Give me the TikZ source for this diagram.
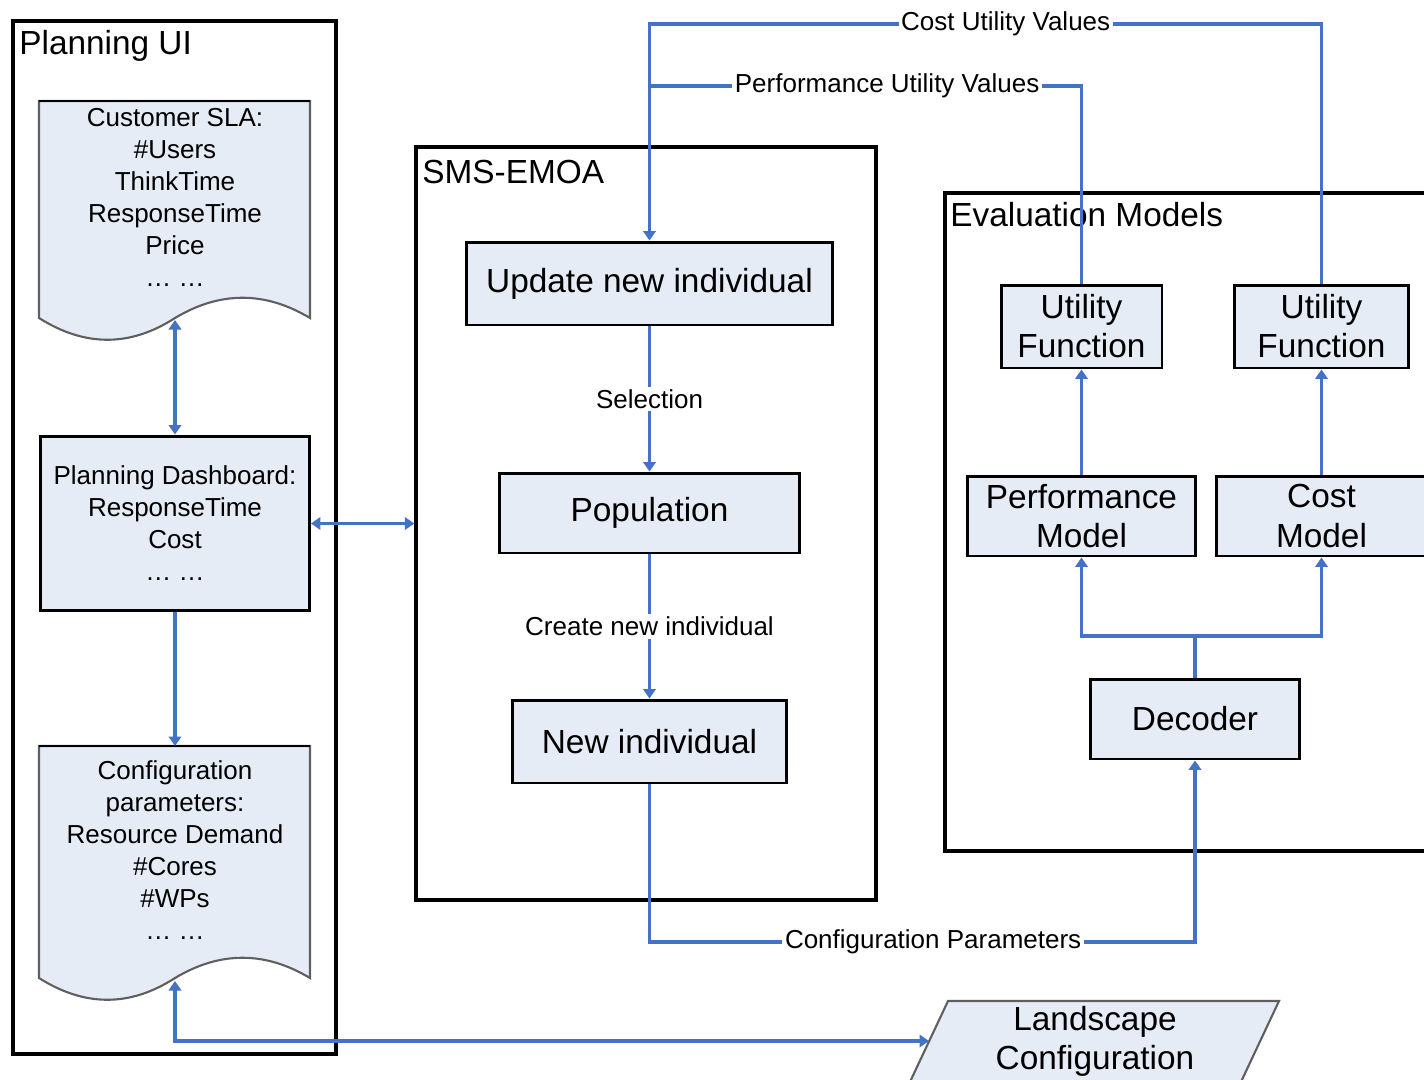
\documentclass[tikz,border=0pt]{standalone}
\usepackage{fontspec}
\setmainfont{Liberation Sans}
\usetikzlibrary{arrows.meta}
\definecolor{boxfill}{RGB}{230,236,246}
\definecolor{linkblue}{RGB}{68,114,196}
\definecolor{docedge}{RGB}{95,95,95}
\newcommand{\bigtxt}{\fontsize{19}{22.2}\selectfont}
\newcommand{\smalltxt}{\fontsize{14.8}{18.2}\selectfont}
\tikzset{
  frame/.style={draw=black, line width=2pt},
  ttl/.style={font=\bigtxt, anchor=base west, inner sep=0pt},
  box/.style={draw=black, line width=1.7pt, fill=boxfill, align=center, font=\bigtxt, inner sep=0pt},
  doc/.style={draw=docedge, line width=1.2pt, fill=boxfill},
  doctxt/.style={align=center, font=\smalltxt, inner sep=0pt},
  lbl/.style={fill=white, font=\smalltxt, inner sep=1.5pt},
  link/.style={draw=linkblue, line width=2pt, >={Triangle[length=0.19cm,width=0.25cm]}}
}
\begin{document}
\begin{tikzpicture}[x=0.02cm, y=-0.02cm]
  \useasboundingbox (0,0) rectangle (1424,1079);
  \node[frame, minimum width=6.46cm, minimum height=20.66cm] (ui) at (174.5,537.5) {};
  \node[frame, minimum width=9.2cm, minimum height=15.06cm] (ga) at (646,523.5) {};
  \node[frame, minimum width=10cm, minimum height=13.16cm] (eval) at (1195,522) {};
  \node[ttl] (uittl) at (19,54) {Planning UI};
  \node[ttl] (gattl) at (422,183) {SMS-EMOA};
  \node[ttl] (evalttl) at (950,226) {Evaluation Models};

  \draw[doc] (39,318) -- (39,101) -- (310,101) -- (310,318)
    .. controls (265,291) and (220,291) .. (175,318)
    .. controls (130,347) and (85,347) .. (39,318) -- cycle;
  \draw[black, line width=1.4pt] (39,101) -- (310,101);
  \node[doctxt] (sla) at (175,197) {Customer SLA:\\\#Users\\ThinkTime\\ResponseTime\\Price\\… …};
  \coordinate (slawave) at (175,320);

  \node[box, font=\smalltxt, minimum width=5.38cm, minimum height=3.5cm] (dash) at (175,523.5)
    {Planning Dashboard:\\ResponseTime\\Cost\\… …};

  \draw[doc] (39,978) -- (39,746) -- (310,746) -- (310,978)
    .. controls (265,951) and (220,951) .. (175,978)
    .. controls (130,1007) and (85,1007) .. (39,978) -- cycle;
  \draw[black, line width=1.4pt] (39,746) -- (310,746);
  \node[doctxt] (conf) at (175,850) {Configuration\\parameters:\\Resource Demand\\\#Cores\\\#WPs\\… …};
  \coordinate (conftop) at (175,746);
  \coordinate (confwave) at (175,981);

  \draw[doc] (948,1001) -- (1279,1001) -- (1240,1084) -- (909,1084) -- cycle;
  \node[font=\bigtxt, align=center] (land) at (1095,1041) {Landscape\\Configuration};
  \coordinate (landin) at (929,1041);

  \node[box, minimum width=7.34cm, minimum height=1.66cm] (upd) at (649.5,283.5) {Update new individual};
  \node[box, minimum width=6cm, minimum height=1.6cm] (pop) at (649.5,513) {Population};
  \node[box, minimum width=5.5cm, minimum height=1.66cm] (newind) at (649.5,741.5) {New individual};
  \node[box, minimum width=3.22cm, minimum height=1.66cm] (uf1) at (1081.5,326.5) {Utility\\Function};
  \node[box, minimum width=3.48cm, minimum height=1.66cm] (uf2) at (1321.5,326.5) {Utility\\Function};
  \node[box, minimum width=4.56cm, minimum height=1.6cm] (perf) at (1081.5,516) {Performance\\Model};
  \node[box, minimum width=4.22cm, minimum height=1.6cm] (cost) at (1321.5,516) {Cost\\Model};
  \node[box, minimum width=4.2cm, minimum height=1.6cm] (dec) at (1195,719) {Decoder};

  \begin{scope}[link]
    \coordinate (perfjoin) at (649.5,86);
    \coordinate (split) at (1195,636);
    \draw[->] (uf2.north) -- (uf2.north |- 0,24) -| node[lbl, pos=0.235] {Cost Utility Values} (upd.north);
    \draw (uf1.north) -- (uf1.north |- perfjoin) -- node[lbl, pos=0.45] {Performance Utility Values} (perfjoin);
    \draw[->] (upd) -- node[lbl] {Selection} (pop);
    \draw[->] (pop) -- node[lbl] {Create new individual} (newind);
    \draw[->] (newind.south) -- (newind.south |- 0,942) -| node[lbl, pos=0.26] {Configuration Parameters} (dec.south);
    \draw (dec) -- (split);
    \draw[->] (split) -| (perf);
    \draw[->] (split) -| (cost);
    \draw[->] (perf) -- (uf1);
    \draw[->] (cost) -- (uf2);
    \draw[<->] (dash) -- (ga);
    \draw[<->] (slawave) -- (dash);
    \draw[->] (dash) -- (conftop);
    \draw[<->] (confwave) |- (landin);
  \end{scope}
\end{tikzpicture}
\end{document}
